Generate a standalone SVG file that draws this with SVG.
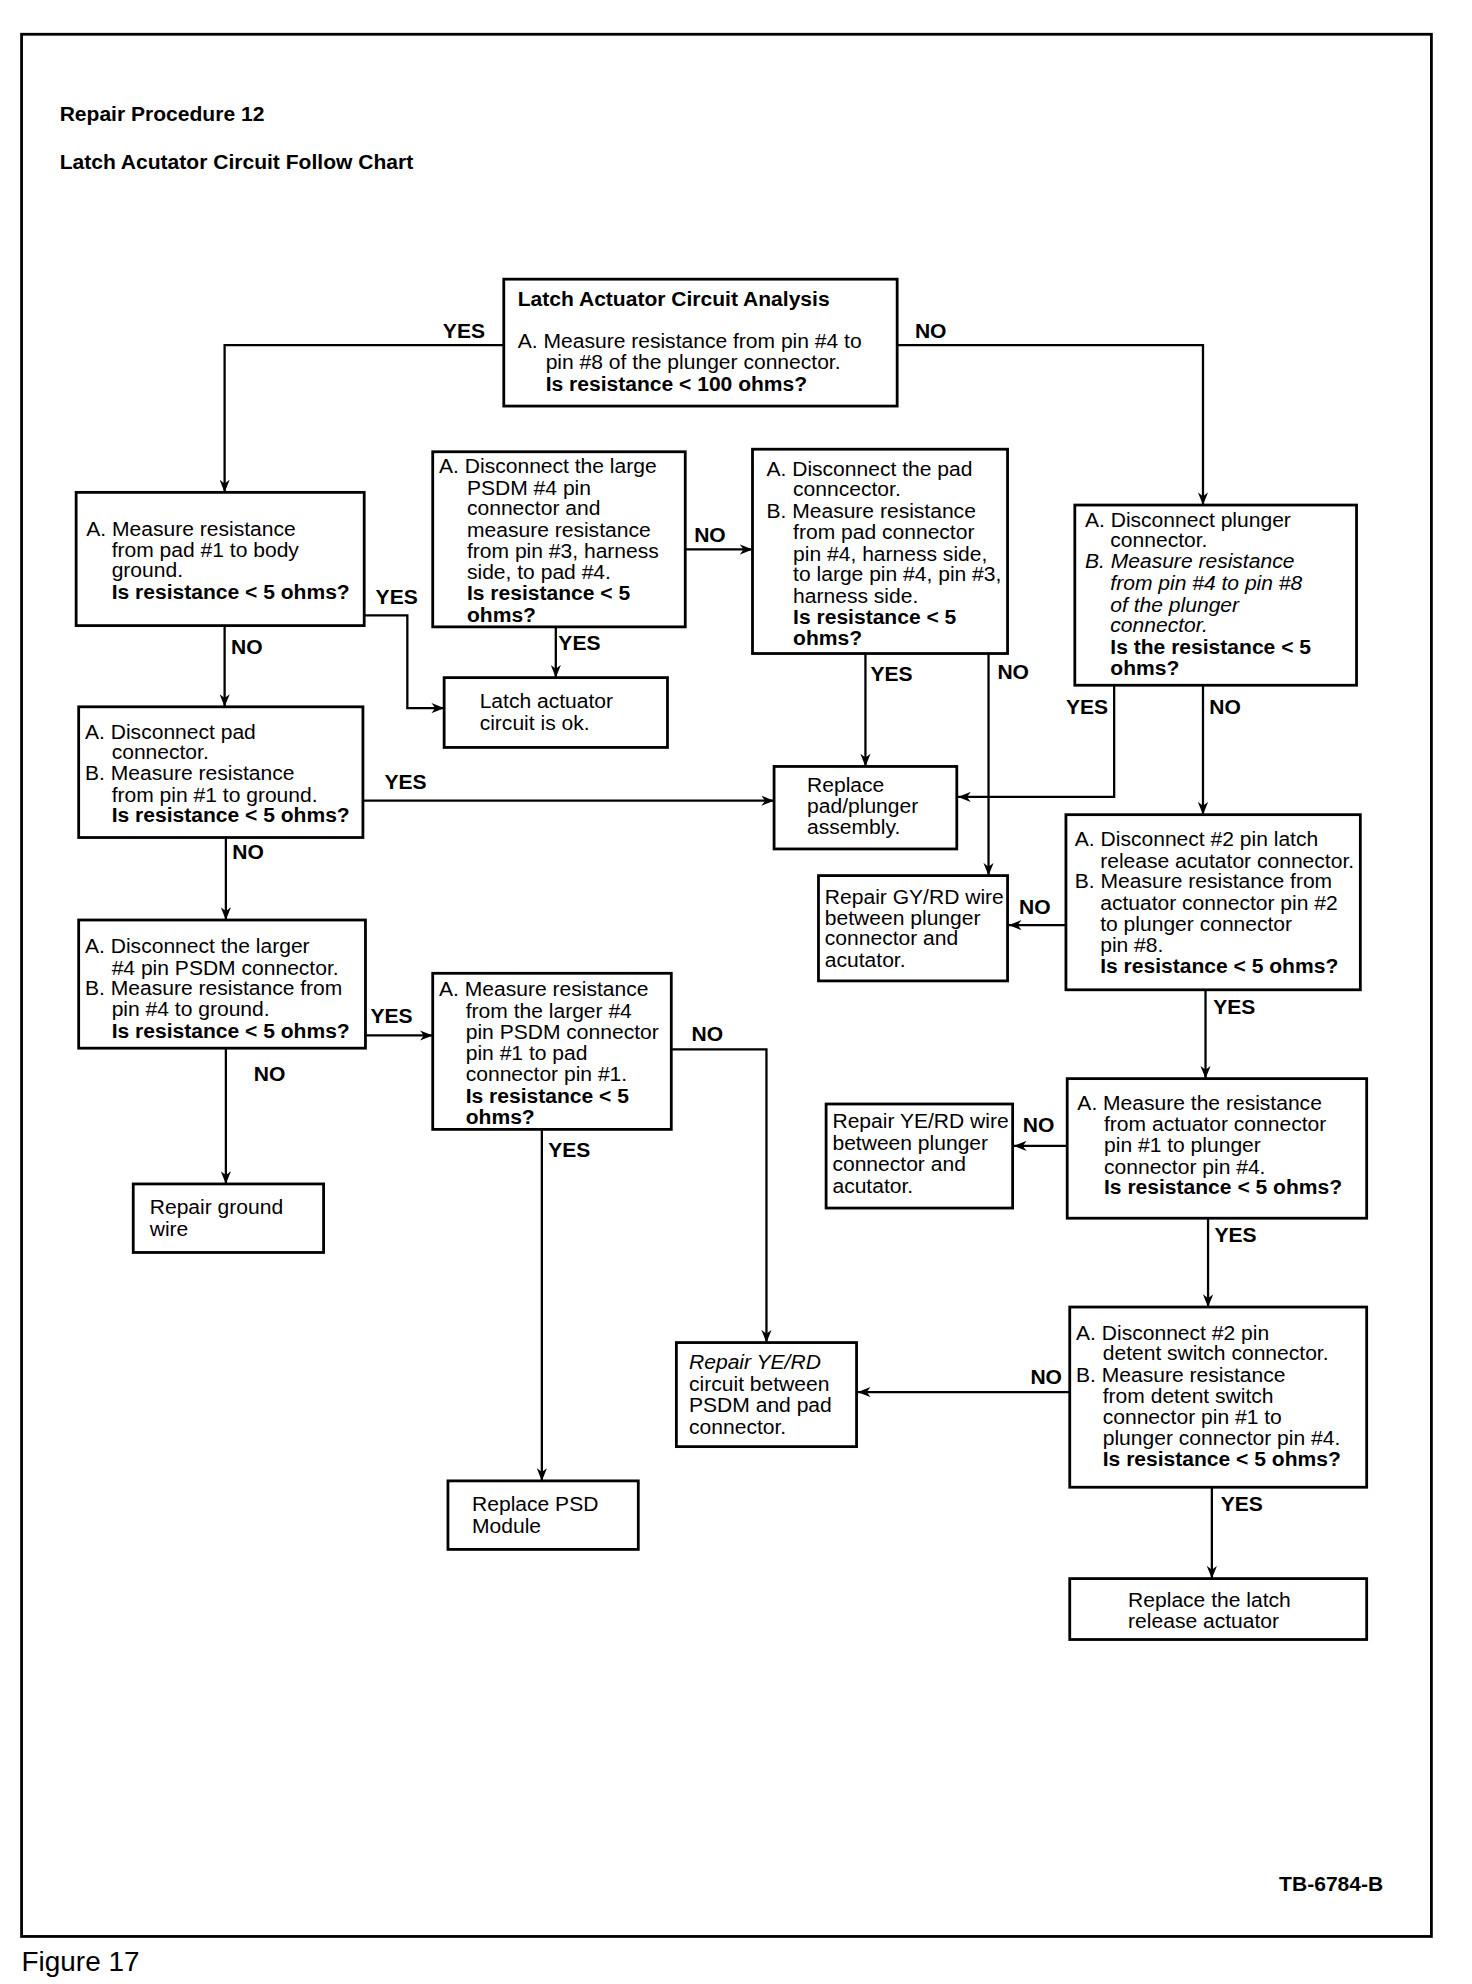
<svg xmlns="http://www.w3.org/2000/svg" width="1472" height="1984" viewBox="0 0 1472 1984">
<style>
.bg{fill:#fff}
.frame{fill:none;stroke:#000;stroke-width:2.2}
.box{fill:#fff;stroke:#000;stroke-width:2.2}
.c{fill:none;stroke:#000;stroke-width:1.8;marker-end:url(#ah)}
.cn{fill:none;stroke:#000;stroke-width:1.8}
text{font-family:"Liberation Sans",Arial,Helvetica,sans-serif;font-size:16.6px;fill:#000}
.b{font-weight:bold}
.i{font-style:italic}
.lbl{font-weight:bold}
</style>
<defs>
<marker id="ah" viewBox="0 0 10 8" refX="10" refY="4" markerWidth="10" markerHeight="8" markerUnits="userSpaceOnUse" orient="auto">
<path d="M0,0 L10,4 L0,8 L3,4 z" fill="#000"/>
</marker>
</defs>
<rect class="bg" x="0" y="0" width="1472" height="1984"/>
<g transform="scale(1.26897)">
<rect class="frame" x="17" y="27" width="1111" height="1499"/>
<g id="titles">
<text class="b" x="47" y="95">Repair Procedure 12</text>
<text class="b" x="47" y="133">Latch Acutator Circuit Follow Chart</text>
<text class="b" x="1008" y="1490">TB-6784-B</text>
<text x="17" y="1553" style="font-size:22px">Figure 17</text>
</g>
<g id="connectors">
<polyline class="c" points="397,272 177,272 177,388"/>
<polyline class="c" points="707,272 948,272 948,398"/>
<polyline class="c" points="287,485 321,485 321,558 350,558"/>
<polyline class="c" points="177,493 177,557"/>
<polyline class="c" points="540,433 593,433"/>
<polyline class="c" points="438,494 438,534"/>
<polyline class="c" points="682,515 682,604"/>
<polyline class="c" points="779,515 779,690"/>
<polyline class="c" points="878,540 878,628 755,628"/>
<polyline class="c" points="948,540 948,642"/>
<polyline class="c" points="286,631 610,631"/>
<polyline class="c" points="178,660 178,725"/>
<polyline class="c" points="840,729 795,729"/>
<polyline class="c" points="950,780 950,850"/>
<polyline class="c" points="288,816 341,816"/>
<polyline class="c" points="178,826 178,933"/>
<polyline class="c" points="529,827 604,827 604,1058"/>
<polyline class="c" points="427,890 427,1167"/>
<polyline class="c" points="841,903 799,903"/>
<polyline class="c" points="952,960 952,1030"/>
<polyline class="c" points="843,1097 676,1097"/>
<polyline class="c" points="955,1172 955,1244"/>
<text class="lbl" x="349" y="266">YES</text>
<text class="lbl" x="721" y="266">NO</text>
<text class="lbl" x="296" y="476">YES</text>
<text class="lbl" x="182" y="515">NO</text>
<text class="lbl" x="547" y="427">NO</text>
<text class="lbl" x="440" y="512">YES</text>
<text class="lbl" x="686" y="537">YES</text>
<text class="lbl" x="786" y="535">NO</text>
<text class="lbl" x="840" y="563">YES</text>
<text class="lbl" x="953" y="563">NO</text>
<text class="lbl" x="303" y="622">YES</text>
<text class="lbl" x="183" y="677">NO</text>
<text class="lbl" x="803" y="720">NO</text>
<text class="lbl" x="956" y="799">YES</text>
<text class="lbl" x="292" y="806">YES</text>
<text class="lbl" x="200" y="852">NO</text>
<text class="lbl" x="545" y="820">NO</text>
<text class="lbl" x="432" y="912">YES</text>
<text class="lbl" x="806" y="892">NO</text>
<text class="lbl" x="957" y="979">YES</text>
<text class="lbl" x="812" y="1091">NO</text>
<text class="lbl" x="962" y="1191">YES</text>
</g>
<g id="n1">
<rect class="box" x="397" y="220" width="310" height="100"/>
<text class="b" x="408" y="241">Latch Actuator Circuit Analysis</text>
<text x="408" y="274">A. Measure resistance from pin #4 to</text>
<text x="430" y="291">pin #8 of the plunger connector.</text>
<text class="b" x="430" y="308">Is resistance &lt; 100 ohms?</text>
</g>
<g id="n2">
<rect class="box" x="60" y="388" width="227" height="105"/>
<text x="68" y="422">A. Measure resistance</text>
<text x="88" y="439">from pad #1 to body</text>
<text x="88" y="455">ground.</text>
<text class="b" x="88" y="472">Is resistance &lt; 5 ohms?</text>
</g>
<g id="n3">
<rect class="box" x="341" y="356" width="199" height="138"/>
<text x="346" y="373">A. Disconnect the large</text>
<text x="368" y="390">PSDM #4 pin</text>
<text x="368" y="406">connector and</text>
<text x="368" y="423">measure resistance</text>
<text x="368" y="440">from pin #3, harness</text>
<text x="368" y="456">side, to pad #4.</text>
<text class="b" x="368" y="473">Is resistance &lt; 5</text>
<text class="b" x="368" y="490">ohms?</text>
</g>
<g id="n4">
<rect class="box" x="350" y="534" width="176" height="55"/>
<text x="378" y="558">Latch actuator</text>
<text x="378" y="575">circuit is ok.</text>
</g>
<g id="n5">
<rect class="box" x="847" y="398" width="222" height="142"/>
<text x="855" y="415">A. Disconnect plunger</text>
<text x="875" y="431">connector.</text>
<text class="i" x="855" y="448">B. Measure resistance</text>
<text class="i" x="875" y="465">from pin #4 to pin #8</text>
<text class="i" x="875" y="482">of the plunger</text>
<text class="i" x="875" y="498">connector.</text>
<text class="b" x="875" y="515">Is the resistance &lt; 5</text>
<text class="b" x="875" y="532">ohms?</text>
</g>
<g id="n6">
<rect class="box" x="62" y="557" width="224" height="103"/>
<text x="67" y="582">A. Disconnect pad</text>
<text x="88" y="598">connector.</text>
<text x="67" y="615">B. Measure resistance</text>
<text x="88" y="632">from pin #1 to ground.</text>
<text class="b" x="88" y="648">Is resistance &lt; 5 ohms?</text>
</g>
<g id="n7">
<rect class="box" x="593" y="354" width="201" height="161"/>
<text x="604" y="375">A. Disconnect the pad</text>
<text x="625" y="391">conncector.</text>
<text x="604" y="408">B. Measure resistance</text>
<text x="625" y="425">from pad connector</text>
<text x="625" y="442">pin #4, harness side,</text>
<text x="625" y="458">to large pin #4, pin #3,</text>
<text x="625" y="475">harness side.</text>
<text class="b" x="625" y="492">Is resistance &lt; 5</text>
<text class="b" x="625" y="508">ohms?</text>
</g>
<g id="n8">
<rect class="box" x="610" y="604" width="144" height="65"/>
<text x="636" y="624">Replace</text>
<text x="636" y="641">pad/plunger</text>
<text x="636" y="657">assembly.</text>
</g>
<g id="n9">
<rect class="box" x="645" y="690" width="149" height="83"/>
<text x="650" y="712">Repair GY/RD wire</text>
<text x="650" y="729">between plunger</text>
<text x="650" y="745">connector and</text>
<text x="650" y="762">acutator.</text>
</g>
<g id="n10">
<rect class="box" x="840" y="642" width="232" height="138"/>
<text x="847" y="667">A. Disconnect #2 pin latch</text>
<text x="867" y="684">release acutator connector.</text>
<text x="847" y="700">B. Measure resistance from</text>
<text x="867" y="717">actuator connector pin #2</text>
<text x="867" y="734">to plunger connector</text>
<text x="867" y="750">pin #8.</text>
<text class="b" x="867" y="767">Is resistance &lt; 5 ohms?</text>
</g>
<g id="n11">
<rect class="box" x="62" y="725" width="226" height="101"/>
<text x="67" y="751">A. Disconnect the larger</text>
<text x="88" y="768">#4 pin PSDM connector.</text>
<text x="67" y="784">B. Measure resistance from</text>
<text x="88" y="801">pin #4 to ground.</text>
<text class="b" x="88" y="818">Is resistance &lt; 5 ohms?</text>
</g>
<g id="n12">
<rect class="box" x="841" y="850" width="236" height="110"/>
<text x="849" y="875">A. Measure the resistance</text>
<text x="870" y="891">from actuator connector</text>
<text x="870" y="908">pin #1 to plunger</text>
<text x="870" y="925">connector pin #4.</text>
<text class="b" x="870" y="941">Is resistance &lt; 5 ohms?</text>
</g>
<g id="n13">
<rect class="box" x="341" y="767" width="188" height="123"/>
<text x="346" y="785">A. Measure resistance</text>
<text x="367" y="802">from the larger #4</text>
<text x="367" y="819">pin PSDM connector</text>
<text x="367" y="835">pin #1 to pad</text>
<text x="367" y="852">connector pin #1.</text>
<text class="b" x="367" y="869">Is resistance &lt; 5</text>
<text class="b" x="367" y="886">ohms?</text>
</g>
<g id="n14">
<rect class="box" x="105" y="933" width="150" height="54"/>
<text x="118" y="957">Repair ground</text>
<text x="118" y="974">wire</text>
</g>
<g id="n15">
<rect class="box" x="651" y="870" width="147" height="82"/>
<text x="656" y="889">Repair YE/RD wire</text>
<text x="656" y="906">between plunger</text>
<text x="656" y="923">connector and</text>
<text x="656" y="940">acutator.</text>
</g>
<g id="n16">
<rect class="box" x="533" y="1058" width="142" height="82"/>
<text class="i" x="543" y="1079">Repair YE/RD</text>
<text x="543" y="1096">circuit between</text>
<text x="543" y="1113">PSDM and pad</text>
<text x="543" y="1130">connector.</text>
</g>
<g id="n17">
<rect class="box" x="353" y="1167" width="150" height="54"/>
<text x="372" y="1191">Replace PSD</text>
<text x="372" y="1208">Module</text>
</g>
<g id="n18">
<rect class="box" x="843" y="1030" width="234" height="142"/>
<text x="848" y="1056">A. Disconnect #2 pin</text>
<text x="869" y="1072">detent switch connector.</text>
<text x="848" y="1089">B. Measure resistance</text>
<text x="869" y="1106">from detent switch</text>
<text x="869" y="1122">connector pin #1 to</text>
<text x="869" y="1139">plunger connector pin #4.</text>
<text class="b" x="869" y="1155">Is resistance &lt; 5 ohms?</text>
</g>
<g id="n19">
<rect class="box" x="843" y="1244" width="234" height="48"/>
<text x="889" y="1266">Replace the latch</text>
<text x="889" y="1283">release actuator</text>
</g>
</g>
</svg>
